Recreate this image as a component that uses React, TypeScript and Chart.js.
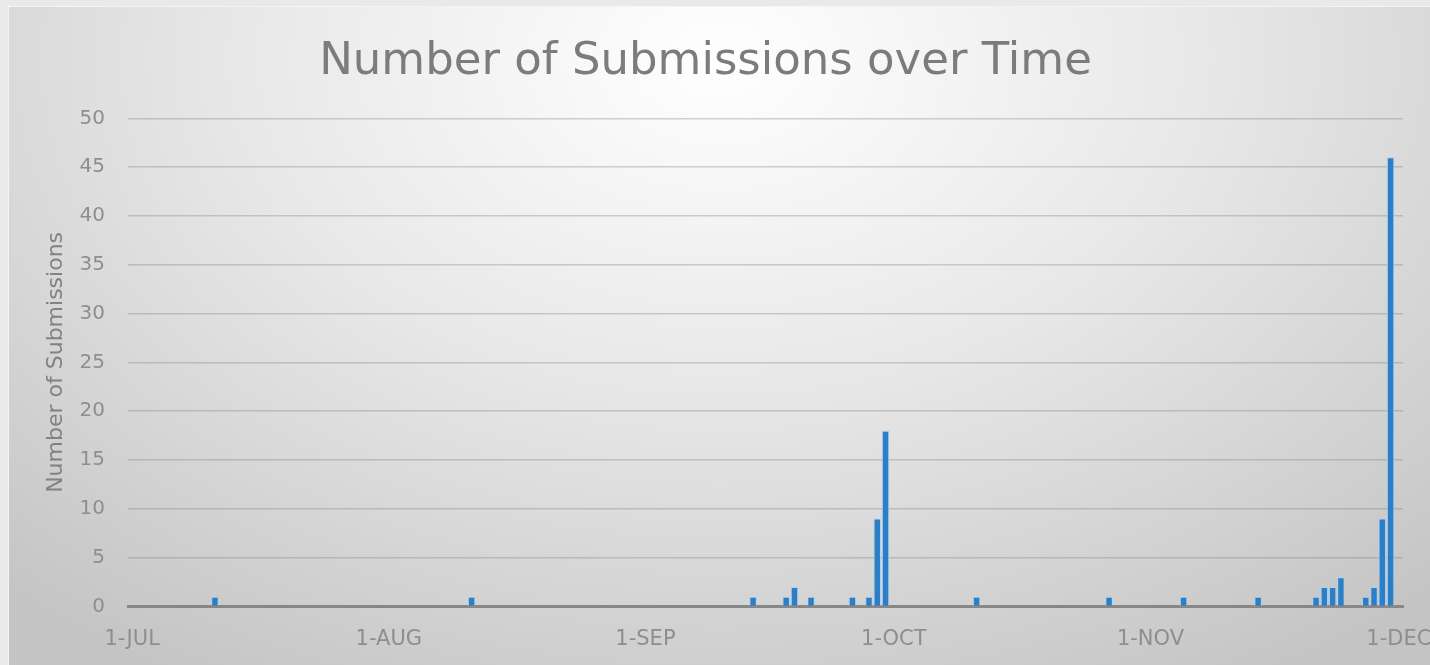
import React, { useEffect, useRef } from 'react';
import { Chart, registerables } from 'chart.js';

Chart.register(...registerables);

// Category axis: every day from 1-JUL to 1-DEC
const MONTHS = ['JUL', 'AUG', 'SEP', 'OCT', 'NOV', 'DEC'];
const MONTH_LENGTHS = [31, 31, 30, 31, 30, 1];

// Days that had submissions, and how many
const SUBMISSION_DATES = [
  '11-JUL', '11-AUG', '14-SEP', '18-SEP', '19-SEP', '21-SEP', '26-SEP', '28-SEP',
  '29-SEP', '30-SEP', '11-OCT', '27-OCT', '5-NOV', '14-NOV', '21-NOV', '22-NOV',
  '23-NOV', '24-NOV', '27-NOV', '28-NOV', '29-NOV', '30-NOV',
];
const SUBMISSION_COUNTS = [
  1, 1, 1, 1, 2, 1, 1, 1,
  9, 18, 1, 1, 1, 1, 1, 2,
  2, 3, 1, 2, 9, 46,
];

const Y_MIN = 0;
const Y_MAX = 50;
const Y_STEP = 5;

const CATEGORIES: string[] = [];
MONTHS.forEach((m, i) => {
  for (let d = 1; d <= MONTH_LENGTHS[i]; d++) CATEGORIES.push(`${d}-${m}`);
});
const DAILY_COUNTS = CATEGORIES.map((c) => {
  const i = SUBMISSION_DATES.indexOf(c);
  return i >= 0 ? SUBMISSION_COUNTS[i] : 0;
});

export default function App() {
  const canvasRef = useRef<HTMLCanvasElement | null>(null);

  useEffect(() => {
    document.body.style.margin = '0';
    document.body.style.background = '#e9e9e9';
    document.body.style.overflow = 'hidden';
    if (!canvasRef.current) return;
    const chart = new Chart(canvasRef.current, {
      type: 'bar',
      data: {
        labels: CATEGORIES,
        datasets: [
          {
            label: 'Submissions',
            data: DAILY_COUNTS,
            backgroundColor: '#2a7fc7',
            borderColor: 'rgba(175,208,240,0.95)',
            borderWidth: 1,
            categoryPercentage: 1,
            barPercentage: 0.9,
          },
        ],
      },
      options: {
        animation: false,
        responsive: false,
        layout: { padding: { left: 0, right: 27, top: 0, bottom: 0 } },
        plugins: {
          legend: { display: false },
          tooltip: { enabled: false },
          title: {
            display: true,
            text: 'Number of Submissions over Time',
            color: '#7c7c7c',
            font: { family: 'DejaVu Sans', size: 45, weight: 'normal' },
            padding: { top: 29.2, bottom: 29.1 },
          },
        },
        scales: {
          x: {
            grid: { display: false, drawTicks: false },
            border: { display: true, color: '#878787', width: 3 },
            ticks: {
              autoSkip: false,
              maxRotation: 0,
              minRotation: 0,
              padding: 20,
              color: '#8e8e8e',
              font: { family: 'DejaVu Sans', size: 21 },
              callback: (_v: any, i: number) => {
                const c = CATEGORIES[i];
                return c.startsWith('1-') ? c : '';
              },
            },
            afterFit: (s: any) => {
              s.height = 58.5;
              s.paddingLeft = 0;
              s.paddingRight = 0;
            },
          },
          y: {
            min: Y_MIN,
            max: Y_MAX,
            ticks: {
              stepSize: Y_STEP,
              padding: 23,
              color: '#8e8e8e',
              font: { family: 'DejaVu Sans', size: 20 },
            },
            grid: { color: 'rgba(120,120,120,0.33)', lineWidth: 1.5, drawTicks: false },
            border: { display: false },
            title: {
              display: true,
              text: 'Number of Submissions',
              color: '#828282',
              font: { family: 'DejaVu Sans', size: 22, weight: 'normal' },
              padding: { top: 35.5, bottom: 0 },
            },
            afterFit: (s: any) => {
              s.width = 120;
              s.paddingTop = 0;
              s.paddingBottom = 0;
            },
          },
        },
      },
    });
    return () => chart.destroy();
  }, []);

  return (
    <div
      style={{
        position: 'absolute',
        left: 8,
        top: 6,
        width: 1422,
        height: 659,
        boxSizing: 'border-box',
        borderTop: '1px solid #f4f4f4',
        borderLeft: '1px solid #f4f4f4',
        background:
          'radial-gradient(ellipse 75% 110% at 50% 8%, #ffffff 0%, #e8e8e8 45%, #c4c4c4 100%)',
      }}
    >
      <canvas
        ref={canvasRef}
        width={1422}
        height={659}
        style={{ position: 'absolute', left: -1, top: -1, width: 1422, height: 659 }}
      />
    </div>
  );
}
